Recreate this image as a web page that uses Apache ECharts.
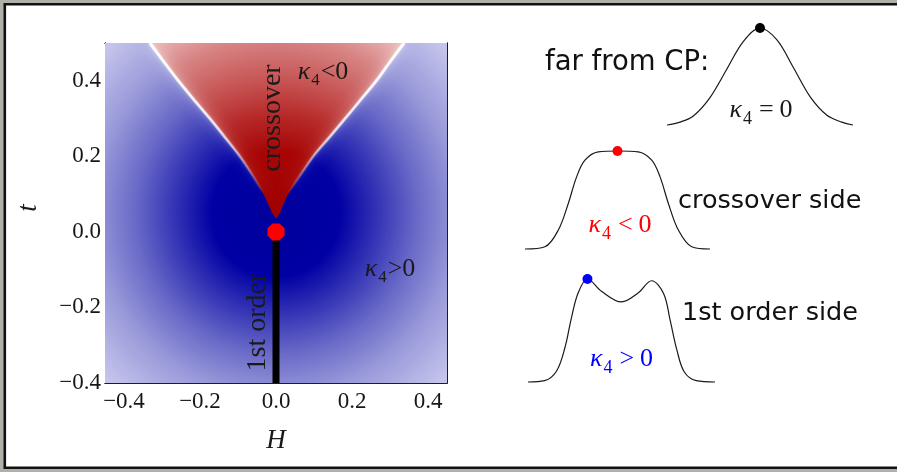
<!DOCTYPE html>
<html><head><meta charset="utf-8">
<script src="https://cdn.jsdelivr.net/npm/echarts@6/dist/echarts.min.js"></script>
<style>html,body{margin:0;padding:0;background:#b0b0a8}#c{width:897px;height:472px}</style>
</head><body><div id="c"></div>
<script>
// ---------------- data ----------------
const hRange = [-0.45, 0.45];
const tRange = [-0.4, 0.5];
const majorTicks = [-0.4, -0.2, 0, 0.2, 0.4];
// boundary of the kappa4<0 (crossover) wedge
const boundaryT      = [0.5, 0.45, 0.4, 0.35, 0.3, 0.25, 0.2, 0.15, 0.1, 0.07, 0.05, 0.035];
const boundaryLeftH  = [-0.332, -0.295, -0.257, -0.216, -0.174, -0.134, -0.095, -0.062, -0.033, -0.019, -0.010, 0];
const boundaryRightH = [0.337, 0.300, 0.264, 0.223, 0.182, 0.140, 0.098, 0.064, 0.032, 0.018, 0.010, 0];
const criticalPoint = [0, 0];
const firstOrderH = [0, 0];
const firstOrderT = [-0.4, 0];
// sketch curves (x: % of width, y: % of height)
const farX  = [0, 7, 14, 23, 32, 41, 50, 59, 68, 77, 86, 94, 100];
const farY  = [0, 3, 9, 28, 57, 86, 100, 88, 59, 29, 10, 3, 0];
const farPeak = [50, 100];
const crossX = [0, 10.8, 18, 23.4, 27.9, 32.4, 39.6, 50.4, 61.2, 68.5, 73, 77.5, 82.9, 90.1, 100];
const crossY = [0, 2.3, 19.3, 46.5, 73.6, 90.6, 99.1, 100, 99.1, 90.6, 73.6, 46.5, 19.3, 2.3, 0];
const crossPeak = [50, 100];
const firstX = [0, 8.9, 15.2, 19.7, 23.2, 26.8, 31.8, 39.3, 50, 58.9, 66.1, 72.5, 76, 79.5, 83.5, 90, 100];
const firstY = [0, 1.3, 10.4, 33, 62.1, 86.4, 100, 88.1, 77.7, 86.4, 98.3, 86, 60, 32, 10, 1.3, 0];
const firstPeak = [31.8, 100];

// ---------------- chart ----------------
const zip = (a, b) => a.map((v, i) => [v, b[i]]);
const chart = echarts.init(document.getElementById('c'), null, {renderer: 'canvas'});
const serif = 'Liberation Serif';
const minus = v => (v < 0 ? '\u2212' : '') + Math.abs(v).toFixed(1);

function plotAxis(pos, isX, major, labels) {
  const a = {
    gridIndex: 0, type: 'value', position: pos,
    min: isX ? hRange[0] : tRange[0], max: isX ? hRange[1] : tRange[1],
    axisLine: {show: true, onZero: false, lineStyle: {color: '#1e1e1e', width: 1}},
    splitLine: {show: false},
    axisTick: {show: true, inside: true, length: major ? 6 : 3.5, lineStyle: {color: '#1e1e1e', width: 1}},
    axisLabel: {show: false}
  };
  if (major) {
    a.axisTick.customValues = majorTicks;
    a.axisLabel = labels ? {show: true, customValues: majorTicks, formatter: minus,
      fontFamily: serif, fontSize: 23, color: '#161616', margin: isX ? 7 : 4} : {show: false};
  } else {
    a.interval = 0.05;
  }
  return a;
}
function hiddenAxis(g) {
  return {gridIndex: g, type: 'value', min: 0, max: 100, show: false};
}

const blueStops = [
  {offset: 0, color: '#00009c'}, {offset: 0.27, color: '#0000a4'},
  {offset: 0.42, color: '#3030b4'}, {offset: 0.6, color: '#6a6ac8'},
  {offset: 0.78, color: '#9a9ada'}, {offset: 1, color: '#c4c4ec'}];
const redStops = [
  {offset: 0, color: '#a00000'}, {offset: 0.3, color: '#a80606'},
  {offset: 0.45, color: '#b62828'}, {offset: 0.6, color: '#c65252'},
  {offset: 0.8, color: '#d88686'}, {offset: 1, color: '#f2caca'}];

const glow = (a0, a1) => ({type: 'linear', x: 0, y: 0, x2: 0, y2: 1, colorStops: [
  {offset: 0, color: 'rgba(255,255,255,' + a0 + ')'},
  {offset: 0.5, color: 'rgba(255,255,255,' + a1 + ')'},
  {offset: 0.85, color: 'rgba(255,255,255,0)'},
  {offset: 1, color: 'rgba(255,255,255,0)'}]});

function edge(hs, width, a0, a1, blur) {
  return {type: 'line', xAxisIndex: 0, yAxisIndex: 0, silent: true, z: 3, smooth: 0.3, symbol: 'none',
    data: zip(hs, boundaryT),
    lineStyle: {width: width, color: glow(a0, a1), shadowBlur: blur, shadowColor: 'rgba(255,255,255,1)'}};
}

const series = [
  { // blue background field
    type: 'custom', xAxisIndex: 0, yAxisIndex: 0, silent: true, clip: true, z: 1,
    data: [[0, 0]],
    renderItem: (p, api) => {
      const p0 = api.coord([hRange[0], tRange[1]]), p1 = api.coord([hRange[1], tRange[0]]);
      const c = api.coord([0, 0.05]), r = api.size([0.62, 0])[0];
      return {type: 'rect', shape: {x: p0[0], y: p0[1], width: p1[0] - p0[0], height: p1[1] - p0[1]},
        style: {fill: {type: 'radial', x: c[0], y: c[1], r: r, global: true, colorStops: blueStops}}};
    }
  },
  { // red crossover wedge
    type: 'custom', xAxisIndex: 0, yAxisIndex: 0, silent: true, clip: true, z: 2,
    data: [[0, 0]],
    renderItem: (p, api) => {
      const pts = [];
      boundaryT.forEach((t, i) => pts.push(api.coord([boundaryLeftH[i], t])));
      for (let i = boundaryT.length - 1; i >= 0; i--) pts.push(api.coord([boundaryRightH[i], boundaryT[i]]));
      const c = api.coord([0, boundaryT[boundaryT.length - 1]]), r = api.size([0.6, 0])[0];
      return {type: 'polygon', shape: {points: pts},
        style: {fill: {type: 'radial', x: c[0], y: c[1], r: r, global: true, colorStops: redStops}}};
    }
  },
  edge(boundaryLeftH, 3, 0.95, 0.55, 14),
  edge(boundaryRightH, 3, 0.95, 0.55, 14),
  edge(boundaryLeftH, 1.5, 1, 0.6, 4),
  edge(boundaryRightH, 1.5, 1, 0.6, 4),
  {type: 'line', xAxisIndex: 0, yAxisIndex: 0, silent: true, z: 5, symbol: 'none',
   data: zip(firstOrderH, firstOrderT), lineStyle: {width: 7, color: '#000'}},
  {type: 'scatter', xAxisIndex: 0, yAxisIndex: 0, silent: true, z: 6,
   symbol: 'path://M-0.414,-1L0.414,-1L1,-0.414L1,0.414L0.414,1L-0.414,1L-1,0.414L-1,-0.414Z',
   symbolSize: 17, itemStyle: {color: '#ff0000', opacity: 1}, data: [criticalPoint]},
  // sketch curves
  {type: 'line', xAxisIndex: 4, yAxisIndex: 4, silent: true, smooth: 0.35, symbol: 'none', clip: false,
   data: zip(farX, farY), lineStyle: {width: 1.2, color: '#1a1a1a'}},
  {type: 'line', xAxisIndex: 5, yAxisIndex: 5, silent: true, smooth: 0.35, symbol: 'none', clip: false,
   data: zip(crossX, crossY), lineStyle: {width: 1.2, color: '#1a1a1a'}},
  {type: 'line', xAxisIndex: 6, yAxisIndex: 6, silent: true, smooth: 0.35, symbol: 'none', clip: false,
   data: zip(firstX, firstY), lineStyle: {width: 1.2, color: '#1a1a1a'}},
  {type: 'scatter', xAxisIndex: 4, yAxisIndex: 4, silent: true, clip: false, symbolSize: 10,
   itemStyle: {color: '#000', opacity: 1}, data: [farPeak], z: 5},
  {type: 'scatter', xAxisIndex: 5, yAxisIndex: 5, silent: true, clip: false, symbolSize: 10,
   itemStyle: {color: '#ff0000', opacity: 1}, data: [crossPeak], z: 5},
  {type: 'scatter', xAxisIndex: 6, yAxisIndex: 6, silent: true, clip: false, symbolSize: 10,
   itemStyle: {color: '#0000ff', opacity: 1}, data: [firstPeak], z: 5}
];

function kappa(x, y, op, num, color, size, sub, subPad, gap) {
  const base = {fontFamily: serif, fontSize: size, fill: color, color: color};
  return {type: 'text', x: x, y: y, z: 100, silent: true, style: {
    text: '{k|\u03ba}{s|4}{o|' + op + '}{n|' + num + '}', align: 'center', verticalAlign: 'middle', fill: color,
    rich: {
      k: Object.assign({}, base, {fontStyle: 'italic'}),
      s: {fontFamily: serif, fontSize: sub, padding: [subPad, 0, 0, 1], fill: color, color: color},
      o: Object.assign({}, base, {padding: [0, gap, 0, gap + 1]}),
      n: base
    }}};
}
function txt(x, y, s, font) {
  return {type: 'text', x: x, y: y, z: 100, silent: true,
    style: {text: s, font: font, fill: '#111', align: 'left', verticalAlign: 'middle'}};
}

const graphic = [
  {type: 'rect', z: -10, silent: true, shape: {x: 4.8, y: 4.2, width: 900, height: 463.5},
   style: {fill: '#ffffff', stroke: '#111', lineWidth: 2.6}},
  // axis titles
  {type: 'text', x: 276, y: 441, z: 100, silent: true,
   style: {text: 'H', font: 'italic 27px "Liberation Serif"', fill: '#1a1a1a', align: 'center', verticalAlign: 'middle'}},
  {type: 'text', x: 29, y: 208, rotation: Math.PI / 2, z: 100, silent: true,
   style: {text: 't', font: 'italic 27px "Liberation Serif"', fill: '#1a1a1a', align: 'center', verticalAlign: 'middle'}},
  // in-plot labels
  {type: 'text', x: 272.5, y: 118, rotation: Math.PI / 2, z: 100, silent: true,
   style: {text: 'crossover', font: '28px "Liberation Serif"', fill: '#1a1a1a', align: 'center', verticalAlign: 'middle'}},
  {type: 'text', x: 257.5, y: 322, rotation: Math.PI / 2, z: 100, silent: true,
   style: {text: '1st order', font: '28px "Liberation Serif"', fill: '#1a1a1a', align: 'center', verticalAlign: 'middle'}},
  kappa(323, 72, '<', '0', '#1a1a1a', 26, 17, 18, 0),
  kappa(390, 269, '>', '0', '#1a1a1a', 26, 17, 18, 0),
  // right-side labels
  txt(545, 63, 'far from CP:', '27.5px "DejaVu Sans"'),
  txt(678, 201, 'crossover side', '25.5px "DejaVu Sans"'),
  txt(682, 313.5, '1st order side', '25.5px "DejaVu Sans"'),
  kappa(761, 110, '=', '0', '#1a1a1a', 26, 18, 18, 6),
  kappa(620, 225, '<', '0', '#ff0000', 26, 18, 18, 6),
  kappa(621.5, 359, '>', '0', '#0000ff', 26, 18, 18, 6)
];

chart.setOption({
  animation: false,
  backgroundColor: '#b0b0a8',
  grid: [
    {left: 105, top: 43, width: 342, height: 340},
    {left: 667, top: 28, width: 186, height: 97},
    {left: 525, top: 151, width: 185, height: 98},
    {left: 528, top: 279, width: 187, height: 103}
  ],
  xAxis: [plotAxis('bottom', true, false), plotAxis('bottom', true, true, true),
          plotAxis('top', true, false), plotAxis('top', true, true, false),
          hiddenAxis(1), hiddenAxis(2), hiddenAxis(3)],
  yAxis: [plotAxis('left', false, false), plotAxis('left', false, true, true),
          plotAxis('right', false, false), plotAxis('right', false, true, false),
          hiddenAxis(1), hiddenAxis(2), hiddenAxis(3)],
  series: series,
  graphic: graphic
});
</script></body></html>
